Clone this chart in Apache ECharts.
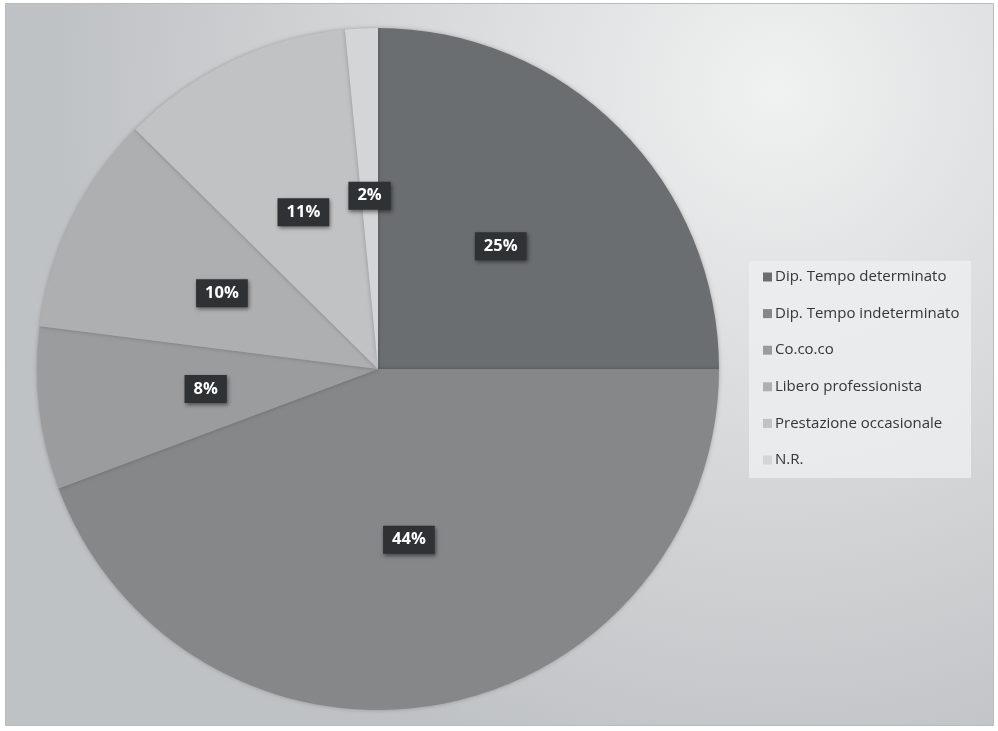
<!DOCTYPE html>
<html>
<head>
<meta charset="utf-8">
<style>html,body{margin:0;padding:0;background:#fff;}#chart{width:998px;height:731px;}</style>
<script src="https://cdn.jsdelivr.net/npm/echarts@6/dist/echarts.min.js"></script>
</head>
<body>
<div id="chart"></div>
<script>
var categories = ['Dip. Tempo determinato', 'Dip. Tempo indeterminato', 'Co.co.co', 'Libero professionista', 'Prestazione occasionale', 'N.R.'];
var values = [25, 44.3, 7.7, 10.4, 11.05, 1.55];
var colors = ['#6b6e70', '#858789', '#9a9c9e', '#adafb1', '#c0c2c4', '#d3d5d6'];

var chart = echarts.init(document.getElementById('chart'), null, {renderer: 'canvas'});
var option = {
  animation: false,
  color: colors,
  graphic: [
    {type: 'rect', z: -10, shape: {x: 5.5, y: 3.5, width: 988, height: 722},
     style: {fill: {type: 'radial', x: 0.78, y: 0.12, r: 1.0,
       colorStops: [{offset: 0, color: '#f0f1f1'}, {offset: 0.45, color: '#d9dbdc'}, {offset: 1, color: '#bfc2c4'}]},
       stroke: '#b8babb', lineWidth: 1}},
    {type: 'rect', z: -5, shape: {x: 749, y: 261, width: 222, height: 217},
     style: {fill: 'rgba(236,237,238,0.85)'}}
  ],
  legend: {
    orient: 'vertical',
    left: 758, top: 262,
    icon: 'rect', itemWidth: 9, itemHeight: 9,
    itemGap: 16.6,
    data: categories,
    textStyle: {fontFamily: 'Open Sans', fontSize: 15, color: '#333536', lineHeight: 20, padding: [0, 0, 0, -2]}
  },
  series: [{
    type: 'pie',
    center: [378, 369],
    radius: 341,
    startAngle: 90,
    clockwise: true,
    avoidLabelOverlap: false,
    itemStyle: {shadowBlur: 4, shadowColor: 'rgba(0,0,0,0.25)'},
    label: {
      position: 'inside',
      formatter: function (p) { return Math.round(p.percent) + '%'; },
      color: '#ffffff', fontFamily: 'Open Sans', fontWeight: 'bold', fontSize: 16.5,
      backgroundColor: '#2f3234', padding: [6, 9, 5, 9],
      shadowBlur: 4, shadowColor: 'rgba(0,0,0,0.5)', shadowOffsetX: 1, shadowOffsetY: 2
    },
    labelLine: {show: false},
    data: categories.map(function (c, i) { return {name: c, value: values[i]}; })
  }]
};
chart.setOption(option);
</script>
</body>
</html>
